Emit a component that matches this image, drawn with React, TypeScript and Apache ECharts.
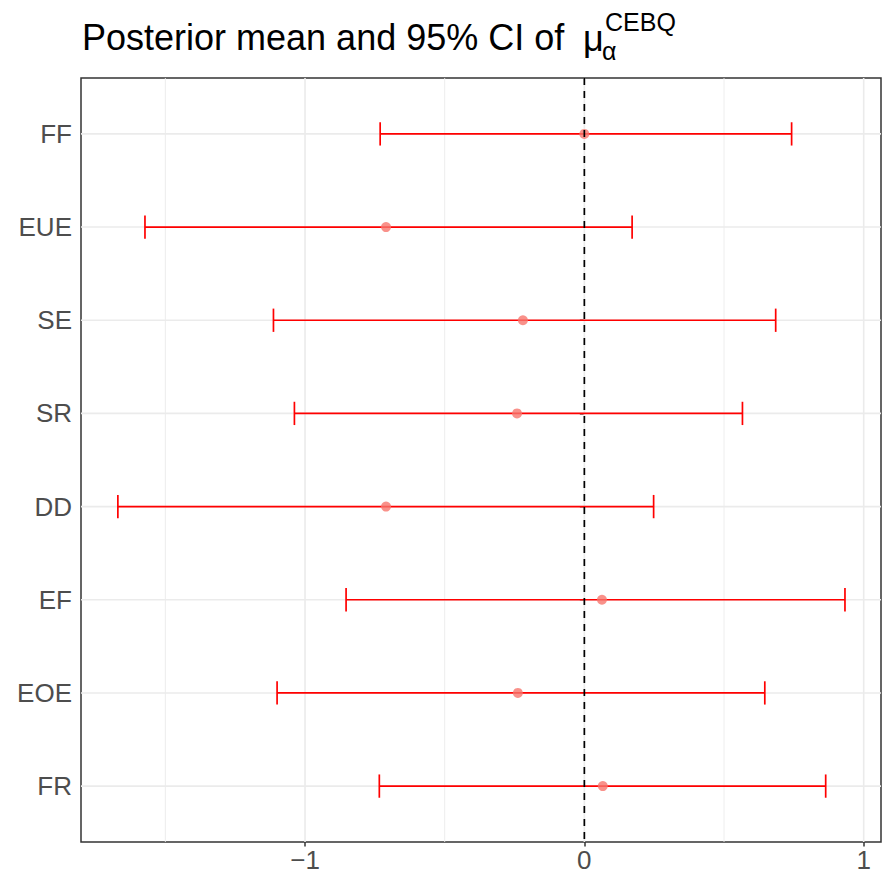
import React, { useEffect, useRef } from "react";
import * as echarts from "echarts";

// Top-to-bottom order of the rows
const categories = ["FF", "EUE", "SE", "SR", "DD", "EF", "EOE", "FR"];
const means = [0.0, -0.71, -0.22, -0.241, -0.71, 0.063, -0.238, 0.066];
const lows = [-0.731, -1.573, -1.113, -1.038, -1.67, -0.853, -1.1, -0.734];
const highs = [0.742, 0.171, 0.685, 0.566, 0.248, 0.933, 0.646, 0.864];
const xTickValues = [-1, 0, 1];
const xTickLabels = ["\u22121", "0", "1"];
const xMinorGrid = [-1.5, -0.5, 0.5];

const FONT = "'Liberation Sans', Arial, Helvetica, sans-serif";

export default function App() {
  const ref = useRef<HTMLDivElement>(null);

  useEffect(() => {
    if (!ref.current) return;
    const chart = echarts.init(ref.current, undefined, { renderer: "svg" });
    const n = categories.length;
    const yPos = categories.map((_, i) => n - i);

    const errData = categories.map((_, i) => [lows[i], highs[i], yPos[i]]);
    const meanData = categories.map((_, i) => [means[i], yPos[i]]);
    const vgridData = [
      ...xTickValues.map((v) => [v, 1, 1]),
      ...xMinorGrid.map((v) => [v, 1, 0]),
    ];
    const hgridData = yPos.map((y) => [0, y]);

    const option: any = {
      animation: false,
      backgroundColor: "#ffffff",
      textStyle: { fontFamily: FONT },
      grid: {
        left: 81,
        top: 78,
        right: 2,
        bottom: 46,
        show: true,
        backgroundColor: "#ffffff",
        borderColor: "#333333",
        borderWidth: 1.5,
        containLabel: false,
      },
      xAxis: {
        type: "value",
        min: -1.802,
        max: 1.062,
        axisLine: { show: false },
        splitLine: { show: false },
        axisTick: {
          show: true,
          customValues: xTickValues,
          length: 4.5,
          lineStyle: { color: "#333333", width: 1.5 },
        },
        axisLabel: {
          customValues: xTickValues,
          formatter: (v: number) => xTickLabels[xTickValues.indexOf(Math.round(v))] ?? "",
          fontSize: 26,
          color: "#4D4D4D",
          fontFamily: FONT,
          margin: 5,
        },
      },
      yAxis: {
        type: "value",
        min: 0.4,
        max: n + 0.6,
        axisLine: { show: false },
        splitLine: { show: false },
        axisTick: {
          show: true,
          customValues: yPos,
          length: 4.5,
          lineStyle: { color: "#333333", width: 1.5 },
        },
        axisLabel: {
          customValues: yPos,
          formatter: (v: number) => categories[n - Math.round(v)] ?? "",
          fontSize: 26,
          color: "#4D4D4D",
          fontFamily: FONT,
          margin: 9,
        },
      },
      graphic: [
        {
          type: "text",
          left: 82,
          top: 19,
          style: {
            text: "Posterior mean and 95% CI of",
            fontSize: 36,
            fontFamily: FONT,
            fill: "#000000",
          },
        },
        {
          type: "text",
          x: 583,
          y: 38,
          style: {
            text: "\u03bc",
            fontSize: 36,
            fontFamily: FONT,
            fill: "#000000",
            verticalAlign: "middle",
          },
        },
        {
          type: "text",
          x: 602,
          y: 51,
          style: {
            text: "\u03b1",
            fontSize: 25,
            fontFamily: FONT,
            fill: "#000000",
            verticalAlign: "middle",
          },
        },
        {
          type: "text",
          x: 605,
          y: 22,
          style: {
            text: "CEBQ",
            fontSize: 25,
            fontFamily: FONT,
            fill: "#000000",
            verticalAlign: "middle",
          },
        },
      ],
      series: [
        {
          type: "custom",
          name: "vgrid",
          z: 1,
          silent: true,
          data: vgridData,
          renderItem: (params: any, api: any) => {
            const cs = params.coordSys;
            const x = api.coord([api.value(0), 1])[0];
            const major = api.value(2) === 1;
            return {
              type: "line",
              shape: { x1: x, y1: cs.y, x2: x, y2: cs.y + cs.height },
              style: { stroke: "#EBEBEB", lineWidth: major ? 1.6 : 0.9 },
            };
          },
        },
        {
          type: "custom",
          name: "hgrid",
          z: 1,
          silent: true,
          data: hgridData,
          renderItem: (params: any, api: any) => {
            const cs = params.coordSys;
            const y = api.coord([0, api.value(1)])[1];
            return {
              type: "line",
              shape: { x1: cs.x, y1: y, x2: cs.x + cs.width, y2: y },
              style: { stroke: "#EBEBEB", lineWidth: 1.6 },
            };
          },
        },
        {
          type: "custom",
          name: "errorbar",
          z: 2,
          data: errData,
          encode: { x: [0, 1], y: 2 },
          renderItem: (params: any, api: any) => {
            const lo = api.coord([api.value(0), api.value(2)]);
            const hi = api.coord([api.value(1), api.value(2)]);
            const half = api.size([0, 0.25])[1] / 2;
            const style = { stroke: "#FF0000", lineWidth: 1.7 };
            return {
              type: "group",
              children: [
                { type: "line", shape: { x1: lo[0], y1: lo[1], x2: hi[0], y2: hi[1] }, style },
                { type: "line", shape: { x1: lo[0], y1: lo[1] - half, x2: lo[0], y2: lo[1] + half }, style },
                { type: "line", shape: { x1: hi[0], y1: hi[1] - half, x2: hi[0], y2: hi[1] + half }, style },
              ],
            };
          },
        },
        {
          type: "scatter",
          name: "mean",
          z: 3,
          symbol: "circle",
          symbolSize: 10,
          itemStyle: { color: "#F8766D" },
          data: meanData,
        },
        {
          type: "custom",
          name: "zero",
          z: 4,
          silent: true,
          data: [[0, 1]],
          renderItem: (params: any, api: any) => {
            const cs = params.coordSys;
            const x = api.coord([api.value(0), 1])[0];
            return {
              type: "line",
              shape: { x1: x, y1: cs.y, x2: x, y2: cs.y + cs.height },
              style: { stroke: "#000000", lineWidth: 1.7, lineDash: [7, 6] },
            };
          },
        },
      ],
    };
    chart.setOption(option);
    return () => chart.dispose();
  }, []);

  return (
    <div
      ref={ref}
      style={{ position: "fixed", left: 0, top: 0, width: 883, height: 888 }}
    />
  );
}
